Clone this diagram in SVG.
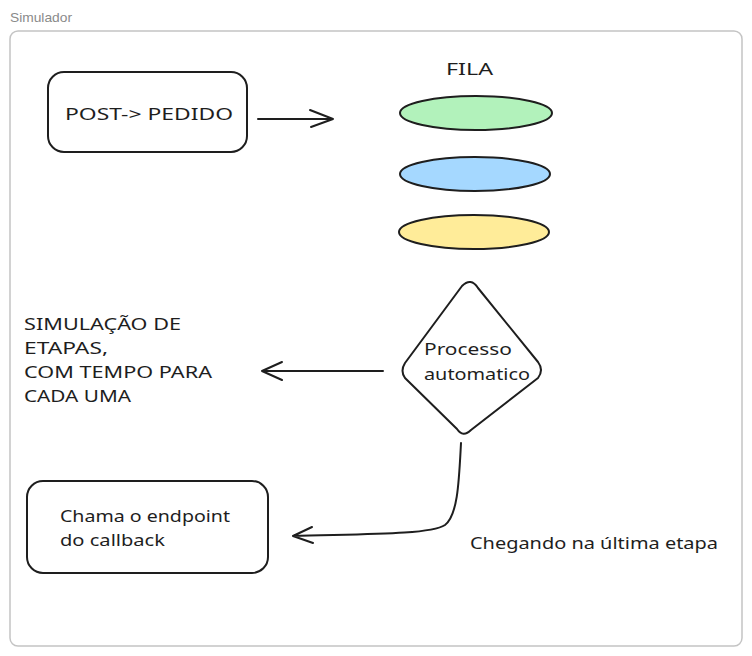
<svg xmlns="http://www.w3.org/2000/svg" width="752" height="656" viewBox="0 0 752 656">
<defs>
<style>
.t{font-family:"Noto Sans","DejaVu Sans",sans-serif;font-size:16px;fill:#1e1e1e}
.n{stroke:#1e1e1e;stroke-width:2;stroke-linejoin:round;stroke-linecap:round}
.c{fill:none;stroke:#1e1e1e;stroke-width:2;stroke-linecap:round;stroke-linejoin:round}
</style>
</defs>
<rect width="752" height="656" fill="#ffffff"/>
<g id="frame">
<text x="10" y="22" font-family="Liberation Sans, Arial, sans-serif" font-size="13" fill="#8a8a8a" textLength="62" lengthAdjust="spacingAndGlyphs">Simulador</text>
<rect x="10" y="31" width="732" height="615" rx="8" fill="none" stroke="#c4c4c4" stroke-width="1.5"/>
</g>
<g id="connectors">
<path class="c" d="M258 119 L333 119 M310 110 L333 119 L311 127"/>
<path class="c" d="M383 371 L262 371 M282 362 L262 371 L282 380"/>
<path class="c" d="M461 443 C459 480 458 515 445 525 C430 535 360 534 293 536 M312 527 L293 536 L313 543"/>
</g>
<g id="post">
<rect class="n" x="48" y="72" width="199" height="80" rx="16" fill="none"/>
<text class="t" x="65" y="120" textLength="168" lengthAdjust="spacingAndGlyphs">POST-&gt; PEDIDO</text>
</g>
<g id="fila">
<text class="t" x="446" y="75" textLength="47" lengthAdjust="spacingAndGlyphs">FILA</text>
<ellipse class="n" cx="476" cy="113" rx="76" ry="17" fill="#b2f2bb"/>
<ellipse class="n" cx="475" cy="174" rx="75" ry="17" fill="#a5d8ff"/>
<ellipse class="n" cx="474" cy="232" rx="75" ry="17" fill="#ffec99"/>
</g>
<g id="processo">
<path class="n" fill="none" d="M462 286 Q471 277 478 288 L538 362 Q544 370 538 378 L471 430 Q463 438 457 429 L405 378 Q400 371 405 363 Z"/>
<text class="t" x="424" y="355" textLength="88" lengthAdjust="spacingAndGlyphs">Processo</text>
<text class="t" x="424" y="380" textLength="106" lengthAdjust="spacingAndGlyphs">automatico</text>
</g>
<g id="simulacao">
<text class="t" x="24" y="330" textLength="157" lengthAdjust="spacingAndGlyphs">SIMULAÇÃO DE</text>
<text class="t" x="24" y="354" textLength="84" lengthAdjust="spacingAndGlyphs">ETAPAS,</text>
<text class="t" x="24" y="378" textLength="188" lengthAdjust="spacingAndGlyphs">COM TEMPO PARA</text>
<text class="t" x="24" y="402" textLength="107" lengthAdjust="spacingAndGlyphs">CADA UMA</text>
</g>
<g id="callback">
<rect class="n" x="27" y="481" width="241" height="92" rx="16" fill="none"/>
<text class="t" x="60" y="522" textLength="170" lengthAdjust="spacingAndGlyphs">Chama o endpoint</text>
<text class="t" x="60" y="546" textLength="105" lengthAdjust="spacingAndGlyphs">do callback</text>
</g>
<g id="chegando">
<text class="t" x="470" y="549" textLength="248" lengthAdjust="spacingAndGlyphs">Chegando na última etapa</text>
</g>
</svg>
